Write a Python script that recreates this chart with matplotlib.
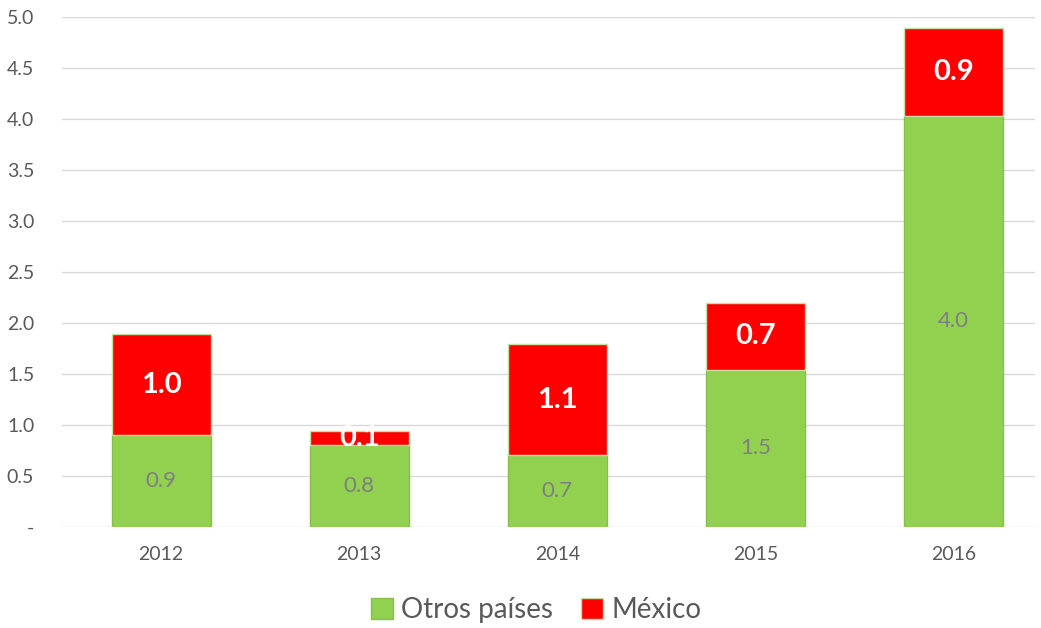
import matplotlib.pyplot as plt
import numpy as np

years = ["2012", "2013", "2014", "2015", "2016"]
otros = [0.90, 0.80, 0.71, 1.54, 4.03]
mexico = [0.99, 0.14, 1.08, 0.66, 0.86]
yticks = [0, 0.5, 1.0, 1.5, 2.0, 2.5, 3.0, 3.5, 4.0, 4.5, 5.0]
ytick_labels = ["-", "0.5", "1.0", "1.5", "2.0", "2.5", "3.0", "3.5", "4.0", "4.5", "5.0"]

plt.rcParams['font.family'] = ['Lato', 'DejaVu Sans']

fig = plt.figure(figsize=(10.41, 6.28), dpi=100)
ax = fig.add_axes([62 / 1041, (628 - 527) / 628, (1035 - 62) / 1041, 510 / 628])

x = np.arange(len(years))
b1 = ax.bar(x, otros, width=0.5, color="#92D050", edgecolor="#86BE4C", linewidth=1,
            label="Otros países", zorder=3)
b2 = ax.bar(x, mexico, width=0.5, bottom=otros, color="#FF0000", edgecolor="#C5DFA6",
            linewidth=1, label="México", zorder=3)

for xi, g, r in zip(x, otros, mexico):
    ax.text(xi, g / 2, f"{g:.1f}", ha="center", va="center", color="#7F7F7F",
            fontsize=16, zorder=4)
    ax.text(xi, g + r / 2, f"{r:.1f}", ha="center", va="center", color="white",
            fontsize=21, fontweight="bold", zorder=4)

ax.set_xlim(-0.5, 4.41)
ax.set_ylim(0, 5.0)
ax.set_yticks(yticks)
ax.set_yticklabels(ytick_labels)
ax.set_xticks(x)
ax.set_xticklabels(years)
ax.yaxis.grid(True, color="#D9D9D9", linewidth=1, zorder=0)
ax.set_axisbelow(True)
for s in ax.spines.values():
    s.set_visible(False)
ax.tick_params(axis="both", length=0, colors="#595959", labelsize=14)
ax.tick_params(axis="y", pad=20)
ax.tick_params(axis="x", pad=14)

fig.legend(handles=[b1, b2], loc="center", bbox_to_anchor=(0.515, 18 / 628),
           ncol=2, frameon=False, fontsize=20, labelcolor="#595959",
           handlelength=0.8, handleheight=0.8, handletextpad=0.3, columnspacing=1.0)

fig.savefig("out.png", dpi=100)
